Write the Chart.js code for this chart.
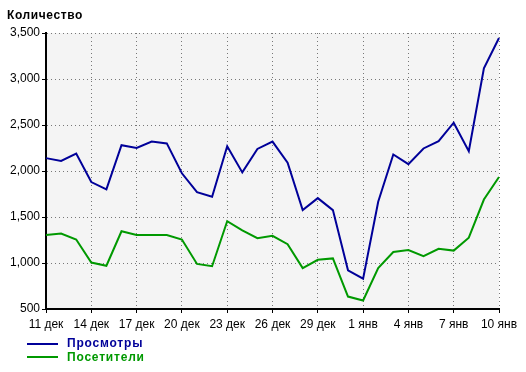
<!DOCTYPE html>
<html>
<head>
<meta charset="utf-8">
<script src="https://cdn.jsdelivr.net/npm/chart.js@4"></script>
<style>
  body { margin: 0; background: #fff; }
  .wrap { position: relative; width: 526px; height: 372px; font-family: "Liberation Sans", Arial, sans-serif; }
  canvas { position: absolute; left: 0; top: 0; }
  .title { position: absolute; left: 7px; top: 8px; font-size: 12px; font-weight: bold; color: #000; letter-spacing: 0.6px; }
  .legend { position: absolute; left: 27px; top: 337px; font-size: 12px; font-weight: bold; letter-spacing: 0.8px; }
  .legend div { height: 13.5px; line-height: 13px; white-space: nowrap; }
  .legend i { display: inline-block; width: 31px; height: 2px; margin-right: 9px; vertical-align: middle; }
</style>
</head>
<body>
<div class="wrap">
  <canvas id="chart" width="526" height="372"></canvas>
  <div class="title">Количество</div>
  <div class="legend" id="legend"></div>
</div>
<script>
const days = [
  '11 дек', '12 дек', '13 дек', '14 дек', '15 дек', '16 дек', '17 дек', '18 дек',
  '19 дек', '20 дек', '21 дек', '22 дек', '23 дек', '24 дек', '25 дек', '26 дек',
  '27 дек', '28 дек', '29 дек', '30 дек', '31 дек', '1 янв', '2 янв', '3 янв',
  '4 янв', '5 янв', '6 янв', '7 янв', '8 янв', '9 янв', '10 янв',
];
const views = [
  2140, 2110, 2190, 1880, 1800, 2280, 2250, 2320, 2300, 1975, 1770, 1720,
  2270, 1985, 2240, 2320, 2090, 1575, 1705, 1575, 920, 830, 1665, 2180,
  2075, 2245, 2325, 2525, 2215, 3115, 3445,
];
const visitors = [
  1305, 1320, 1255, 1005, 970, 1345, 1305, 1305, 1305, 1255, 990, 965,
  1455, 1355, 1270, 1295, 1205, 945, 1035, 1050, 635, 592, 945, 1120,
  1140, 1075, 1155, 1135, 1275, 1690, 1935,
];
const yTicks = [500, 1000, 1500, 2000, 2500, 3000, 3500];

const series = [
  { label: 'Просмотры', data: views, color: '#000099' },
  { label: 'Посетители', data: visitors, color: '#009900' },
];

document.getElementById('legend').innerHTML = series.map((s) =>
  `<div style="color:${s.color}"><i style="background:${s.color}"></i>${s.label}</div>`
).join('');

const plotBg = {
  id: 'plotBg',
  beforeDraw(chart) {
    const { ctx, chartArea: a } = chart;
    ctx.save();
    ctx.fillStyle = '#f4f4f4';
    ctx.fillRect(a.left, a.top, a.right - a.left, a.bottom - a.top);
    ctx.restore();
  },
};

const font = { family: "'Liberation Sans', Arial, sans-serif", size: 12 };

new Chart(document.getElementById('chart'), {
  type: 'line',
  data: {
    labels: days,
    datasets: series.map((s) => ({
      label: s.label,
      data: s.data,
      borderColor: s.color,
      backgroundColor: s.color,
      borderWidth: 2,
      pointRadius: 0,
      tension: 0,
      fill: false,
    })),
  },
  options: {
    responsive: false,
    animation: false,
    devicePixelRatio: 1,
    layout: { padding: { left: 0, right: 27, top: 33, bottom: 33 } },
    plugins: { legend: { display: false }, tooltip: { enabled: false } },
    scales: {
      x: {
        offset: false,
        afterFit: (s) => { s.height = 30; },
        grid: { color: '#777', tickColor: '#000', tickLength: 4, tickWidth: 1 },
        border: { color: '#000', width: 2, dash: [1, 3] },
        ticks: {
          color: '#000', font, padding: 4,
          autoSkip: false, maxRotation: 0,
          callback: (v, i) => (i % 3 === 0 ? days[i] : null),
        },
      },
      y: {
        min: yTicks[0],
        max: yTicks[yTicks.length - 1],
        afterFit: (s) => { s.width = 46; },
        afterBuildTicks: (s) => { s.ticks = yTicks.map((v) => ({ value: v })); },
        grid: { color: '#777', tickColor: '#000', tickLength: 4, tickWidth: 1 },
        border: { color: '#000', width: 2, dash: [1, 3] },
        ticks: {
          color: '#000', font, padding: 2,
          callback: (v) => v.toLocaleString('en-US'),
        },
      },
    },
  },
  plugins: [plotBg],
});
</script>
</body>
</html>
